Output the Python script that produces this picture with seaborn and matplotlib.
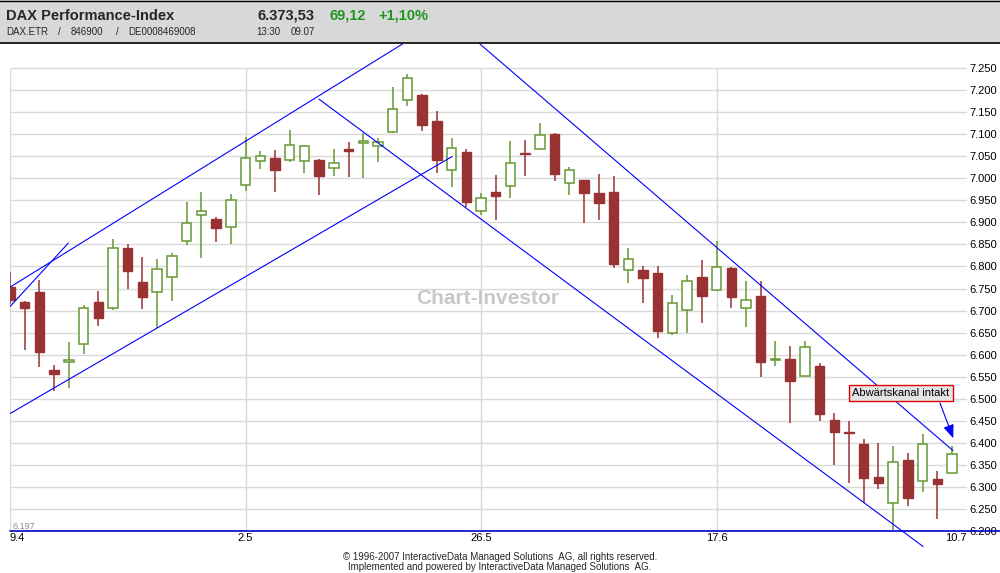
import matplotlib
matplotlib.use("Agg")
import matplotlib.pyplot as plt
import seaborn as sns
import pandas as pd
from matplotlib.patches import Rectangle
from matplotlib.lines import Line2D

# daily candles, 9.4. to 9.7. (trading days)
opens = [6754, 6719, 6742, 6564, 6582, 6625, 6719, 6705, 6841, 6764,
         6741, 6777, 6857, 6916, 6908, 6889, 6984, 7039, 7046, 7041,
         7039, 7042, 7023, 7066, 7081, 7073, 7105, 7177, 7189, 7130,
         7018, 7060, 6925, 6969, 6982, 7057, 7066, 7101, 6989, 6996,
         6967, 6969, 6792, 6792, 6785, 6648, 6702, 6776, 6746, 6796,
         6705, 6733, 6588, 6589, 6552, 6573, 6451, 6425, 6396, 6321,
         6264, 6361, 6314, 6317, 6331]
closes = [6724, 6706, 6606, 6555, 6587, 6705, 6683, 6843, 6790, 6731,
          6795, 6823, 6898, 6927, 6888, 6950, 7046, 7052, 7020, 7077,
          7073, 7006, 7036, 7063, 7085, 7082, 7157, 7227, 7122, 7042,
          7070, 6947, 6955, 6961, 7034, 7055, 7098, 7011, 7020, 6968,
          6945, 6806, 6816, 6774, 6654, 6716, 6766, 6733, 6798, 6731,
          6723, 6582, 6591, 6539, 6618, 6464, 6424, 6422, 6320, 6308,
          6355, 6274, 6398, 6306, 6374]
highs = [6788, 6722, 6769, 6576, 6628, 6712, 6744, 6862, 6851, 6821,
         6817, 6830, 6946, 6969, 6912, 6964, 7093, 7062, 7064, 7110,
         7075, 7043, 7067, 7083, 7102, 7092, 7208, 7236, 7192, 7153,
         7092, 7067, 6966, 7008, 7085, 7087, 7126, 7103, 7026, 6997,
         7010, 7005, 6842, 6801, 6802, 6735, 6780, 6814, 6858, 6798,
         6767, 6767, 6630, 6620, 6630, 6580, 6467, 6449, 6408, 6399,
         6393, 6376, 6419, 6335, 6393]
lows = [6715, 6610, 6572, 6517, 6524, 6601, 6664, 6702, 6749, 6704,
        6661, 6722, 6849, 6820, 6856, 6852, 6972, 7022, 6970, 7037,
        7013, 6963, 7006, 7004, 7001, 7038, 7103, 7165, 7108, 7013,
        6981, 6936, 6917, 6906, 6956, 7006, 7064, 6995, 6963, 6899,
        6906, 6797, 6763, 6717, 6638, 6645, 6649, 6672, 6744, 6706,
        6663, 6548, 6573, 6445, 6548, 6449, 6350, 6308, 6264, 6295,
        6201, 6256, 6288, 6227, 6330]

tick_pos = [0, 16, 32, 48, 65]
tick_labels = ["9.4", "2.5", "26.5", "17.6", "10.7"]
price_levels = list(range(6200, 7251, 50))

# trend lines (day index, price)
rise_upper_x, rise_upper_y = [0, 26.7], [6753, 7306]
rise_lower_x, rise_lower_y = [0, 30.05], [6466, 7050]
short_x, short_y = [0, 3.96], [6709, 6853]
fall_upper_x, fall_upper_y = [31.93, 64.06], [7305, 6382]
fall_lower_x, fall_lower_y = [20.99, 62.04], [7180, 6164]

RED = "#993333"
GREEN = "#669933"
BLUE = "#0000ff"
GRID = "#d9d9d9"

sns.set_theme(style="white")
plt.rcParams["font.family"] = ["Liberation Sans", "DejaVu Sans"]

df = pd.DataFrame({"open": opens, "high": highs, "low": lows, "close": closes})
df["idx"] = range(len(df))
df["up"] = df["close"] >= df["open"]
df["bottom"] = df[["open", "close"]].min(axis=1)
df["body"] = (df["close"] - df["open"]).abs().clip(lower=2)

fig = plt.figure(figsize=(10, 5.73), dpi=100)
ax = fig.add_axes([0.010, 0.0738, 0.9568, 0.8494])
ax.set_xlim(0, 65)
ax.set_ylim(6200, 7305.2)

# grid
ax.hlines(price_levels[1:], 0, 65, color=GRID, lw=1.0, zorder=1)
ax.vlines(tick_pos[:-1], 6200, 7250, color=GRID, lw=1.0, zorder=1)
ax.plot([0, 67.3], [6200, 6200], color="#0000c8", lw=1.2, clip_on=False, zorder=4)

ax.text(32.47, 6728, "Chart-Investor", ha="center", va="center", fontsize=15,
        fontweight="bold", color="#c8c8c8", zorder=1.5)

# candles
up = df[df["up"]]
down = df[~df["up"]]
ax.vlines(up["idx"], up["low"], up["high"], color=GREEN, lw=1.1, zorder=2)
ax.vlines(down["idx"], down["low"], down["high"], color=RED, lw=1.1, zorder=2)
ax.bar(up["idx"], up["body"], bottom=up["bottom"], width=0.64, facecolor="white",
       edgecolor=GREEN, lw=1.1, zorder=3)
ax.bar(down["idx"], down["body"], bottom=down["bottom"], width=0.64, facecolor=RED,
       edgecolor=RED, lw=1.0, zorder=3)

# trend channels
for xs, ys in [(rise_upper_x, rise_upper_y), (rise_lower_x, rise_lower_y),
               (short_x, short_y), (fall_upper_x, fall_upper_y)]:
    sns.lineplot(x=xs, y=ys, ax=ax, color=BLUE, lw=0.8, sort=False, zorder=5)
sns.lineplot(x=fall_lower_x, y=fall_lower_y, ax=ax, color=BLUE, lw=0.8, sort=False,
             zorder=5, clip_on=False)

ax.text(60.53, 6513, "Abwärtskanal intakt", ha="center", va="center", fontsize=8,
        color="black", zorder=6,
        bbox=dict(boxstyle="square,pad=0.3", facecolor="#e4e4e4", edgecolor="#e00000", lw=1.0))
ax.annotate("", xy=(64.08, 6410), xytext=(63.18, 6490), zorder=6,
            arrowprops=dict(arrowstyle="-|>,head_length=0.45,head_width=0.18",
                            mutation_scale=18, color=BLUE, lw=0.8, shrinkA=0, shrinkB=0))

ax.text(0.15, 6203, "6.197", va="baseline", ha="left", fontsize=6.5, color="#888888")

# axes
for s in ax.spines.values():
    s.set_visible(False)
ax.grid(False)
ax.yaxis.tick_right()
ax.set_yticks(price_levels, [f"{v:,}".replace(",", ".") for v in price_levels])
ax.set_xticks(tick_pos, tick_labels)
ax.tick_params(axis="y", length=0, pad=2, labelsize=8, labelcolor="black")
ax.tick_params(axis="x", length=0, pad=2, labelsize=8, labelcolor="black")
xl = ax.get_xticklabels()
xl[0].set_ha("left")
xl[-1].set_ha("right")
ax.set_xlabel("")
ax.set_ylabel("")

# header
def fy(px):
    return 1 - px / 573

fig.patches.append(Rectangle((0, fy(43)), 1, 43 / 573, transform=fig.transFigure,
                             facecolor="#d8d8d8", edgecolor="none", zorder=0))
fig.add_artist(Line2D([0, 1], [fy(0.5), fy(0.5)], color="black", lw=1.0))
fig.add_artist(Line2D([0, 1], [fy(43.2), fy(43.2)], color="black", lw=1.2))

HG = "#1e961e"
fig.text(6 / 1000, fy(20), "DAX Performance-Index", fontsize=10.5, fontweight="bold", va="baseline")
fig.text(258 / 1000, fy(20), "6.373,53", fontsize=10.5, fontweight="bold", va="baseline")
fig.text(330 / 1000, fy(20), "69,12", fontsize=10.5, fontweight="bold", color=HG, va="baseline")
fig.text(378 / 1000, fy(20), "+1,10%", fontsize=10.5, fontweight="bold", color=HG, va="baseline")
for x, s in [(6, "DAX.ETR"), (58.5, "/"), (71, "846900"), (115.5, "/"), (128, "DE0008469008"),
             (256, "13:30"), (290.5, "09.07")]:
    fig.text(x / 1000, fy(35), s, fontsize=7, va="baseline")

fig.text(0.5, fy(560.5), "© 1996-2007 InteractiveData Managed Solutions  AG, all rights reserved.",
         ha="center", va="baseline", fontsize=7)
fig.text(0.5, fy(570), "Implemented and powered by InteractiveData Managed Solutions  AG.",
         ha="center", va="baseline", fontsize=7)

fig.savefig("out.png", dpi=100, facecolor="white")
